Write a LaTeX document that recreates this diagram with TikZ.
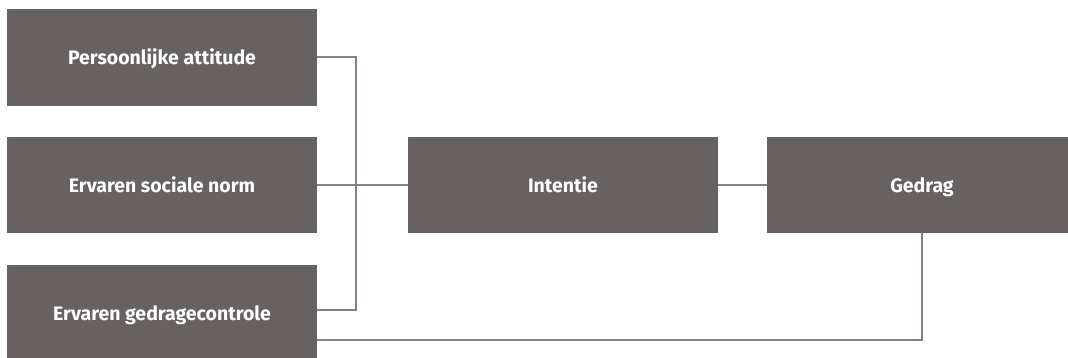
\documentclass[tikz,border=0pt]{standalone}
\usepackage{fontspec}
\setmainfont{Fira Sans}
\definecolor{boxfill}{HTML}{676162}
\definecolor{linec}{HTML}{868081}
\begin{document}
\begin{tikzpicture}[x=1pt,y=-1pt,
  box/.style={fill=boxfill, draw=none, text=white, font=\fontsize{19.5}{23}\selectfont\bfseries, inner sep=0pt, text height=15pt, text depth=0pt},
  conn/.style={draw=linec, line width=2pt}]
\useasboundingbox (0,0) rectangle (1068,358);
\path[clip] (0,0) rectangle (1068,358);
\node[box, minimum width=310pt, minimum height=97pt] (pa) at (162,57.5) {Persoonlijke attitude};
\node[box, minimum width=310pt, minimum height=96pt] (sn) at (162,185) {Ervaren sociale norm};
\node[box, minimum width=310pt, minimum height=96pt] (gc) at (162,313) {Ervaren gedragecontrole};
\node[box, minimum width=310pt, minimum height=96pt] (in) at (563,185) {Intentie};
\node[box, minimum width=310pt, minimum height=96pt] (ge) at (922,185) {Gedrag};
\coordinate (bus) at (356,185);
\draw[conn] (pa.east) -- (pa.east -| bus) -- ([yshift=3pt]gc.east -| bus) -- ([yshift=3pt]gc.east);
\draw[conn] (sn.east) -- (in.west);
\draw[conn] (in.east) -- (ge.west);
\draw[conn] (ge.south) -- ([yshift=-27pt]gc.east -| ge.south) -- ([yshift=-27pt]gc.east);
\end{tikzpicture}
\end{document}
